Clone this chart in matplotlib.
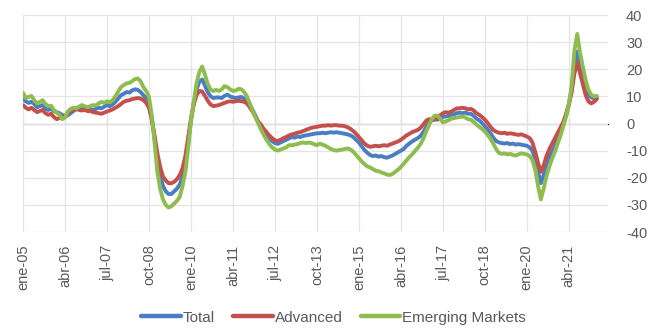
import matplotlib.pyplot as plt

plt.rcParams['font.family'] = ['Liberation Sans', 'DejaVu Sans']
plt.rcParams['axes.unicode_minus'] = False

# Variación interanual (%), mensual desde ene-2005 hasta feb-2022
total = [
    9.0, 8.2, 7.6, 8.0, 7.2, 6.0, 6.4, 6.8, 5.6, 5.0, 5.4, 4.6,
    4.2, 3.8, 3.2, 2.6, 3.0, 3.8, 4.6, 5.2, 5.4, 5.6, 5.2, 5.6,
    5.4, 5.0, 5.4, 5.8, 5.6, 6.2, 6.8, 6.4, 7.0, 8.0, 9.2, 10.4,
    11.0, 11.6, 11.4, 12.2, 12.6, 12.4, 11.6, 10.4, 9.4, 7.0, 2.0, -5.5,
    -13.0, -19.0, -23.0, -25.0, -26.0, -26.0, -25.0, -24.0, -22.5, -19.5, -14.0, -7.0,
    1.5, 7.5, 12.5, 15.5, 16.2, 14.0, 11.6, 10.0, 9.4, 9.6, 9.6, 9.4,
    10.2, 10.6, 10.0, 9.6, 9.4, 9.6, 9.8, 9.2, 8.4, 7.0, 5.0, 3.0,
    0.5, -1.5, -3.0, -4.5, -5.5, -6.5, -7.2, -7.5, -7.0, -6.5, -6.0, -5.5,
    -5.0, -5.2, -4.8, -5.0, -4.6, -4.4, -4.2, -4.0, -3.8, -3.6, -3.6, -3.4,
    -3.6, -3.4, -3.2, -3.4, -3.2, -3.4, -3.6, -3.8, -4.0, -4.4, -5.0, -6.0,
    -7.0, -8.4, -9.8, -10.8, -11.6, -12.0, -11.8, -12.2, -12.0, -12.4, -12.6, -12.2,
    -11.8, -11.2, -10.6, -10.0, -9.4, -8.2, -7.4, -6.6, -6.0, -5.4, -4.6, -3.2,
    -1.4, 0.2, 1.2, 1.6, 1.4, 2.0, 2.4, 2.6, 2.8, 3.2, 3.4, 3.8,
    4.0, 3.8, 4.0, 3.6, 3.6, 2.8, 1.8, 1.2, 0.2, -1.0, -2.2, -3.6,
    -5.2, -6.4, -7.0, -7.2, -7.4, -7.2, -7.6, -7.4, -7.8, -7.6, -7.8, -8.0,
    -8.2, -8.8, -10.0, -13.5, -18.0, -22.0, -19.0, -15.0, -12.5, -10.5, -8.5, -6.0,
    -3.5, -0.5, 3.0, 7.0, 12.5, 22.0, 26.5, 22.0, 18.0, 14.0, 11.0, 9.6,
    9.2, 9.6,
]

advanced = [
    6.8, 5.8, 5.2, 5.8, 5.0, 4.2, 4.6, 5.0, 3.8, 3.2, 3.6, 2.4,
    1.6, 2.0, 2.4, 2.8, 3.6, 4.6, 5.2, 5.6, 5.0, 4.8, 5.0, 4.6,
    4.6, 4.2, 4.0, 3.8, 3.6, 4.0, 4.4, 4.8, 5.2, 5.8, 6.4, 7.2,
    8.0, 8.4, 8.6, 9.0, 9.2, 9.4, 9.2, 8.6, 7.6, 5.8, 1.5, -4.5,
    -11.0, -16.0, -19.5, -21.0, -22.0, -22.0, -21.5, -20.5, -19.0, -16.5, -12.0, -5.0,
    1.5, 7.0, 10.5, 12.0, 11.8, 10.2, 8.4, 7.0, 6.4, 6.6, 6.8, 7.2,
    7.6, 8.0, 8.2, 8.0, 8.2, 8.4, 8.2, 8.0, 7.4, 6.0, 4.4, 2.6,
    0.8, -0.4, -2.0, -3.2, -4.4, -5.4, -6.2, -6.4, -6.0, -5.4, -5.0, -4.4,
    -4.0, -3.8, -3.4, -3.2, -2.8, -2.4, -2.0, -1.6, -1.4, -1.2, -1.0, -0.8,
    -0.8, -0.6, -0.8, -0.6, -0.6, -0.8, -0.8, -1.0, -1.4, -2.0, -2.8, -3.8,
    -5.0, -6.2, -7.4, -8.2, -8.6, -8.4, -8.2, -8.4, -8.2, -8.0, -8.2, -7.8,
    -7.4, -7.0, -6.6, -6.0, -5.2, -4.4, -3.8, -3.2, -2.8, -2.4, -1.6, -0.4,
    1.0, 1.6, 1.2, 1.4, 2.2, 3.0, 3.8, 4.2, 4.0, 4.4, 5.0, 5.6,
    5.6, 5.8, 5.6, 5.2, 5.4, 4.8, 3.8, 3.2, 2.4, 1.4, 0.2, -1.2,
    -2.4, -3.0, -3.4, -3.6, -3.4, -3.8, -3.6, -3.8, -4.0, -4.2, -4.0, -4.4,
    -4.8, -5.4, -7.0, -10.5, -14.5, -17.8, -15.5, -12.0, -9.5, -7.5, -5.5, -3.5,
    -1.5, 0.5, 3.5, 7.0, 11.5, 18.5, 22.5, 18.5, 14.5, 10.5, 8.2, 7.4,
    8.0, 9.0,
]

emerging = [
    11.3, 9.4, 9.8, 10.2, 8.6, 7.4, 8.0, 8.6, 7.2, 6.4, 6.6, 5.0,
    4.0, 3.2, 1.6, 2.2, 4.4, 5.4, 5.8, 5.6, 6.2, 6.8, 6.4, 6.0,
    6.4, 6.8, 6.6, 7.4, 8.0, 7.6, 8.2, 7.8, 8.6, 10.0, 11.8, 13.4,
    14.2, 14.8, 15.0, 15.6, 16.4, 16.6, 15.6, 13.4, 12.0, 9.8, 3.0, -7.0,
    -18.0, -24.0, -28.0, -30.0, -31.0, -30.5, -29.5, -28.5, -27.0, -23.0, -18.0, -9.0,
    1.0, 8.0, 15.0, 19.0, 21.0, 18.0, 14.5, 12.5, 12.0, 12.4, 12.0, 12.6,
    13.8, 13.4, 12.6, 12.0, 12.2, 12.8, 12.6, 11.6, 10.0, 7.4, 4.8, 2.4,
    0.2, -2.2, -4.2, -6.0, -7.6, -8.8, -9.6, -10.0, -9.6, -9.2, -8.8, -8.0,
    -8.0, -7.8, -7.6, -7.2, -7.0, -7.2, -7.0, -7.2, -7.6, -8.0, -7.4, -7.8,
    -8.2, -8.8, -9.4, -9.8, -10.0, -9.8, -9.6, -9.4, -9.2, -9.6, -10.4, -11.6,
    -12.8, -14.0, -15.0, -15.8, -16.2, -16.8, -17.4, -17.6, -18.0, -18.4, -18.8, -19.0,
    -18.6, -17.8, -17.0, -16.0, -14.8, -13.6, -12.4, -11.4, -10.2, -9.0, -7.6, -5.6,
    -3.0, -0.8, 1.6, 2.8, 3.0, 1.8, 0.4, 0.8, 1.2, 1.8, 2.0, 2.2,
    2.4, 2.6, 2.2, 1.6, 1.4, 0.6, -0.4, -1.2, -2.0, -3.0, -4.2, -5.6,
    -7.4, -9.4, -10.8, -11.2, -11.0, -11.4, -11.2, -11.6, -11.8, -11.4, -11.0, -11.2,
    -11.4, -12.0, -13.5, -17.0, -23.0, -28.0, -24.0, -19.5, -16.0, -13.0, -10.5, -7.5,
    -4.5, -1.0, 2.5, 7.0, 14.0, 27.0, 33.0, 26.0, 21.0, 16.0, 12.5, 10.6,
    10.0, 10.2,
]

tick_labels = ['ene-05', 'abr-06', 'jul-07', 'oct-08', 'ene-10', 'abr-11', 'jul-12',
               'oct-13', 'ene-15', 'abr-16', 'jul-17', 'oct-18', 'ene-20', 'abr-21']

months = list(range(len(total)))
tick_pos = [15 * i for i in range(len(tick_labels))]

gray_txt = '#595959'
grid_col = '#E4E4E4'

fig = plt.figure(figsize=(6.54, 3.29), dpi=100)
ax = fig.add_axes([0.0352, 0.2948, 0.8945, 0.6596])

ax.plot(months, total, color='#4A7EC4', lw=2.8, label='Total', solid_capstyle='round')
ax.plot(months, advanced, color='#C4504C', lw=2.8, label='Advanced', solid_capstyle='round')
ax.plot(months, emerging, color='#8FBC4E', lw=2.8, label='Emerging Markets', solid_capstyle='round')

ax.set_xlim(0, 209)
ax.set_ylim(-40, 40)
ax.set_yticks(range(-40, 41, 10))
ax.yaxis.tick_right()
ax.tick_params(axis='y', length=0, pad=13, labelsize=10.5, labelcolor=gray_txt)

ax.set_xticks(tick_pos)
ax.set_xticklabels(tick_labels, rotation=90, ha='center', va='top')
ax.tick_params(axis='x', length=0, pad=9, labelsize=10.5, labelcolor=gray_txt)

ax.grid(True, color=grid_col, lw=0.9)
ax.set_axisbelow(True)
for s in ax.spines.values():
    s.set_visible(False)

# eje de categorías cruzando en cero, con marcas hacia abajo
sec = ax.secondary_xaxis(0.5)
sec.set_xticks(tick_pos)
sec.set_xticklabels([])
sec.tick_params(axis='x', length=4, width=0.9, color='#BFBFBF', direction='out')
sec.spines['bottom'].set_color('#BFBFBF')
sec.spines['bottom'].set_linewidth(1.0)

leg = fig.legend(loc='center', bbox_to_anchor=(0.51, 0.034), ncol=3, frameon=False,
                 fontsize=11, handlelength=2.6, handletextpad=0.12, columnspacing=1.2)
for t in leg.get_texts():
    t.set_color(gray_txt)
for h in leg.legend_handles:
    h.set_linewidth(3.2)

plt.savefig('out.png', dpi=100)
